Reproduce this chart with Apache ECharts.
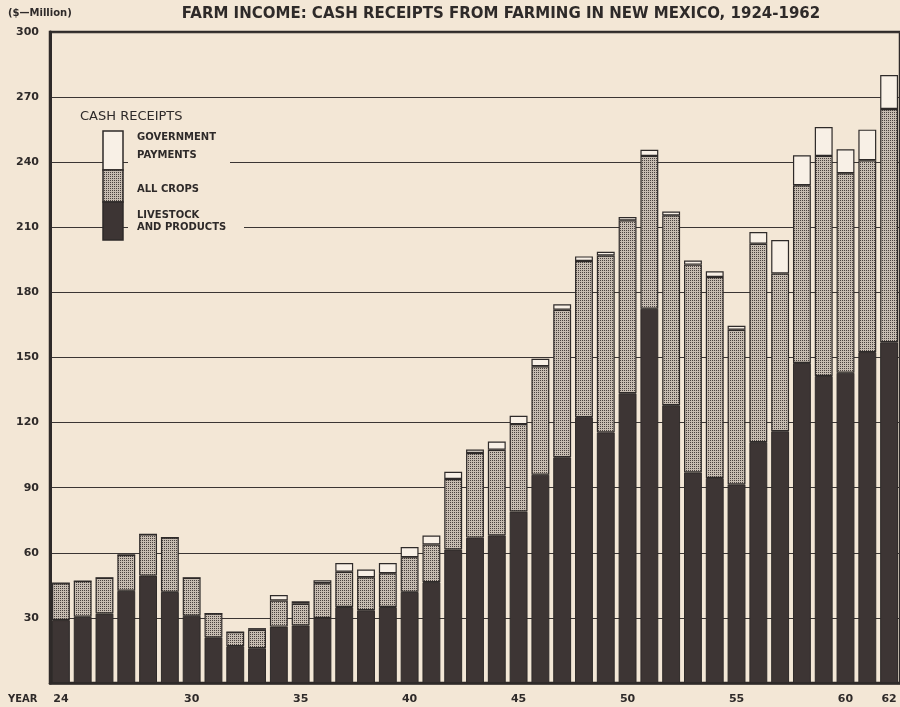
<!DOCTYPE html>
<html>
<head>
<meta charset="utf-8">
<title>Farm income: cash receipts from farming in New Mexico, 1924-1962</title>
<script src="https://cdn.jsdelivr.net/npm/echarts@6/dist/echarts.min.js"></script>
<style>
  html, body { margin: 0; padding: 0; background: #f3e7d6; }
  #main { width: 900px; height: 707px; }
</style>
</head>
<body>
<div id="main"></div>
<script>
// years 1924-1962, shown as two digit labels
var years = ['24','25','26','27','28','29','30','31','32','33','34','35','36','37','38','39',
  '40','41','42','43','44','45','46','47','48','49','50','51','52','53','54','55','56','57',
  '58','59','60','61','62'];
var shownYears = ['24','30','35','40','45','50','55','60','62'];

// $ million
var livestock = [29, 30.5, 32, 42.5, 49.5, 42, 31, 21, 17, 16, 26, 26.5, 30, 35, 33.5, 35,
  42, 46.5, 61.5, 67, 68, 79, 96, 104, 122.5, 115.5, 133.5, 172.5, 128, 97, 94.5, 91.5,
  111, 116, 147.5, 141.5, 143, 152.5, 157];
var crops = [17, 16.5, 16.5, 16.5, 19, 25, 17.5, 11, 6.5, 8.5, 12, 10, 16, 16.3, 15.2, 15.6,
  16, 17.3, 32.5, 39, 39.5, 40.3, 50, 68, 72, 81.5, 79.7, 70.4, 87.5, 95.8, 92.6, 71.3,
  91.4, 72.7, 81.9, 101.4, 91.9, 88.4, 107.5];
var govPayments = [0, 0, 0, 0, 0, 0, 0, 0, 0, 0.8, 2.5, 1.2, 1.3, 4, 3.6, 4.7,
  4.7, 4.2, 3.3, 1.6, 3.8, 3.8, 3.4, 2.5, 2.1, 1.7, 1.5, 2.8, 1.8, 1.9, 2.6, 1.8,
  5.4, 15.4, 13.8, 13.3, 11.1, 14.1, 15.7];

var paper = '#f3e7d6';
var ink = '#2e2a29';
var dark = '#3d3534';
var white = '#f8f0e6';
var font = 'DejaVu Sans';

// little dot screen for the crops
function dotTile() {
  var c = document.createElement('canvas');
  c.width = 2; c.height = 2;
  var ctx = c.getContext('2d');
  ctx.fillStyle = '#c6bcb1';
  ctx.fillRect(0, 0, 2, 2);
  ctx.fillStyle = '#4a423f';
  ctx.fillRect(0, 0, 1, 1);
  return c;
}
var cropFill = { image: dotTile(), repeat: 'repeat' };

var myChart = echarts.init(document.getElementById('main'), null, { renderer: 'canvas' });

var option = {
  backgroundColor: paper,
  animation: false,
  title: {
    text: 'FARM INCOME: CASH RECEIPTS FROM FARMING IN NEW MEXICO, 1924-1962',
    left: 496,
    top: 2,
    textAlign: 'center',
    textStyle: { fontFamily: font, fontSize: 15, fontWeight: 'bold', color: ink }
  },
  grid: {
    left: 50, right: 0, top: 32, bottom: 24,
    show: true,
    borderColor: ink,
    borderWidth: 2.5,
    backgroundColor: 'transparent'
  },
  xAxis: {
    type: 'category',
    data: years,
    axisLine: { show: true, lineStyle: { color: ink, width: 2.5 } },
    axisTick: { show: false },
    axisLabel: {
      interval: function (i, v) { return shownYears.indexOf(v) >= 0; },
      margin: 11,
      fontFamily: font, fontSize: 11, fontWeight: 'bold', color: ink
    }
  },
  yAxis: {
    type: 'value',
    min: 0, max: 300, interval: 30,
    axisLine: { show: true, lineStyle: { color: ink, width: 3 } },
    axisTick: { show: false },
    axisLabel: {
      margin: 11,
      formatter: function (v) { return v === 0 ? '' : v; },
      fontFamily: font, fontSize: 11, fontWeight: 'bold', color: ink
    },
    splitLine: { show: true, lineStyle: { color: '#3a3533', width: 1.2 } }
  },
  series: [
    {
      name: 'LIVESTOCK AND PRODUCTS',
      type: 'bar', stack: 'cash', barWidth: '82%',
      data: livestock,
      itemStyle: { color: dark, borderColor: ink, borderWidth: 1 }
    },
    {
      name: 'ALL CROPS',
      type: 'bar', stack: 'cash',
      data: crops,
      itemStyle: { color: cropFill, borderColor: ink, borderWidth: 1.2 }
    },
    {
      name: 'GOVERNMENT PAYMENTS',
      type: 'bar', stack: 'cash',
      data: govPayments,
      itemStyle: { color: white, borderColor: ink, borderWidth: 1.2 }
    }
  ],
  graphic: [
    { type: 'text', left: 8, top: 8,
      style: { text: '($\u2014Million)', font: 'bold 10px ' + font, fill: ink } },
    { type: 'text', left: 8, top: 694,
      style: { text: 'YEAR', font: 'bold 10px ' + font, fill: ink } },
    // legend: patches of paper hide the grid lines behind the text
    { type: 'rect', shape: { x: 128, y: 126, width: 102, height: 44 }, style: { fill: paper }, z: 50 },
    { type: 'rect', shape: { x: 128, y: 204, width: 116, height: 36 }, style: { fill: paper }, z: 50 },
    { type: 'text', x: 80, y: 117, z: 51,
      style: { text: 'CASH RECEIPTS', font: '13px ' + font, fill: ink, verticalAlign: 'middle' } },
    { type: 'rect', z: 51, shape: { x: 103, y: 131, width: 20, height: 39 },
      style: { fill: white, stroke: ink, lineWidth: 1.5 } },
    { type: 'rect', z: 51, shape: { x: 103, y: 170, width: 20, height: 32 },
      style: { fill: cropFill, stroke: ink, lineWidth: 1.5 } },
    { type: 'rect', z: 51, shape: { x: 103, y: 202, width: 20, height: 38 },
      style: { fill: dark, stroke: ink, lineWidth: 1.5 } },
    { type: 'text', x: 137, y: 137, z: 52,
      style: { text: 'GOVERNMENT', font: 'bold 10px ' + font, fill: ink, verticalAlign: 'middle' } },
    { type: 'text', x: 137, y: 155, z: 52,
      style: { text: 'PAYMENTS', font: 'bold 10px ' + font, fill: ink, verticalAlign: 'middle' } },
    { type: 'text', x: 137, y: 189, z: 52,
      style: { text: 'ALL CROPS', font: 'bold 10px ' + font, fill: ink, verticalAlign: 'middle' } },
    { type: 'text', x: 137, y: 215, z: 52,
      style: { text: 'LIVESTOCK', font: 'bold 10px ' + font, fill: ink, verticalAlign: 'middle' } },
    { type: 'text', x: 137, y: 227, z: 52,
      style: { text: 'AND PRODUCTS', font: 'bold 10px ' + font, fill: ink, verticalAlign: 'middle' } }
  ]
};

myChart.setOption(option);
</script>
</body>
</html>
